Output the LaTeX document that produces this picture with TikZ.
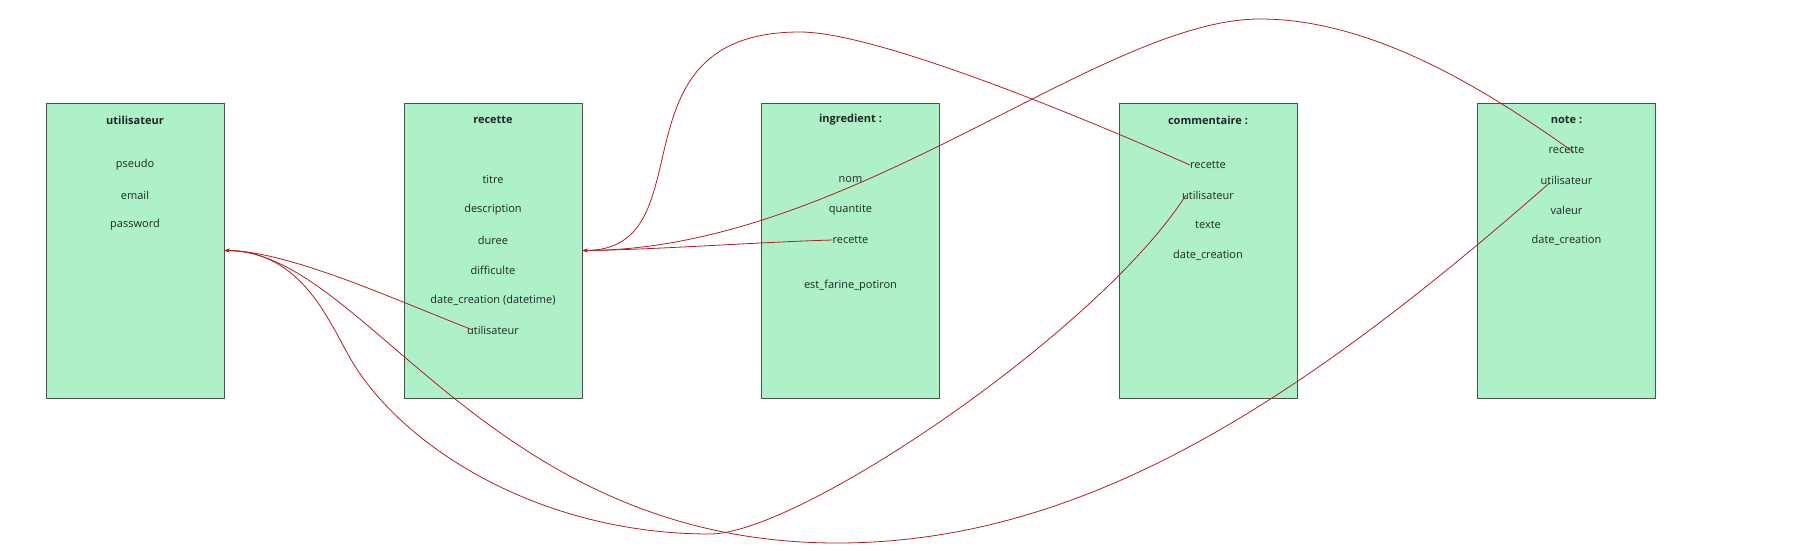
\documentclass[tikz,border=0pt]{standalone}
\usepackage{fontspec}
\setmainfont{Open Sans}
\usetikzlibrary{arrows.meta, positioning}

\definecolor{tablefill}{RGB}{174,240,200}
\definecolor{tableline}{RGB}{70,85,75}
\definecolor{linkred}{RGB}{178,30,36}
\definecolor{fieldtext}{RGB}{30,40,35}

\tikzset{
  entity/.style={draw=tableline, fill=tablefill, line width=1pt,
    minimum width=178pt, minimum height=295pt, inner sep=0pt},
  field/.style={font=\fontsize{11}{13}\selectfont, text=fieldtext, inner sep=0pt},
  ename/.style={field, font=\fontsize{11}{13}\selectfont\bfseries},
  fk/.style={draw=linkred, line width=0.8pt, -{Stealth[length=5pt,width=3.6pt]}}
}

\begin{document}
\begin{tikzpicture}[x=1pt, y=-1pt]
    \useasboundingbox (0,0) rectangle (1814,551);

    % Tables
    \node[entity] (utilisateur) at (135,250.5) {};
    \node[entity] (recette) at (493,250.5) {};
    \node[entity] (ingredient) at (850.5,250.5) {};
    \node[entity] (commentaire) at (1208,250.5) {};
    \node[entity] (note) at (1566.5,250.5) {};

    % utilisateur
    \node[ename] (u-title) at (135,120) {utilisateur};
    \node[field] (u-pseudo) at (135,165) {pseudo};
    \node[field] (u-email) at (135,195) {email};
    \node[field] (u-pass) at (135,225) {password};

    % recette
    \node[ename] (r-title) at (493,120) {recette};
    \node[field] (r-titre) at (493,180) {titre};
    \node[field] (r-desc) at (493,210) {description};
    \node[field] (r-duree) at (493,240) {duree};
    \node[field] (r-diff) at (493,270) {difficulte};
    \node[field] (r-date) at (493,300) {date\_creation (datetime)};
    \node[field] (r-user) at (493,330) {utilisateur};

    % ingredient
    \node[ename] (i-title) at (850.5,120) {ingredient :};
    \node[field] (i-nom) at (850.5,180) {nom};
    \node[field] (i-quant) at (850.5,210) {quantite};
    \node[field] (i-rec) at (850.5,240) {recette};
    \node[field] (i-farine) at (850.5,286) {est\_farine\_potiron};

    % commentaire
    \node[ename] (c-title) at (1208,120) {commentaire :};
    \node[field] (c-rec) at (1208,165) {recette};
    \node[field] (c-user) at (1208,195) {utilisateur};
    \node[field] (c-texte) at (1208,225) {texte};
    \node[field] (c-date) at (1208,255) {date\_creation};

    % note
    \node[ename] (n-title) at (1566.5,120) {note :};
    \node[field] (n-rec) at (1566.5,150) {recette};
    \node[field] (n-user) at (1566.5,180) {utilisateur};
    \node[field] (n-val) at (1566.5,210) {valeur};
    \node[field] (n-date) at (1566.5,240) {date\_creation};

    % Links to utilisateur
    \draw[fk] ([xshift=6pt]r-user.west) .. controls (400,302) and (290,251) .. (utilisateur.east);
    \draw[fk] ([xshift=4pt]c-user.west) .. controls (1100,330) and (800,534) .. (710,534)
        .. controls (540,534) and (405,448) .. (353,363)
        .. controls (330,325) and (304,251) .. (utilisateur.east);
    \draw[fk] ([xshift=9pt,yshift=-3pt]n-user.west) .. controls (1301,401) and (1085,543) .. (837,543)
        .. controls (487,543) and (365,251) .. (utilisateur.east);

    % Links to recette
    \draw[fk] (i-rec.west) .. controls (760,242) and (650,250) .. (recette.east);
    \draw[fk] (c-rec.west) .. controls (1100,125) and (880,32) .. (800,32)
        .. controls (605,32) and (710,250) .. (recette.east);
    \draw[fk] ([xshift=7pt,yshift=-2pt]n-rec.center) .. controls (1500,100) and (1380,19) .. (1260,19)
        .. controls (1100,19) and (850,250) .. (recette.east);
\end{tikzpicture}
\end{document}
